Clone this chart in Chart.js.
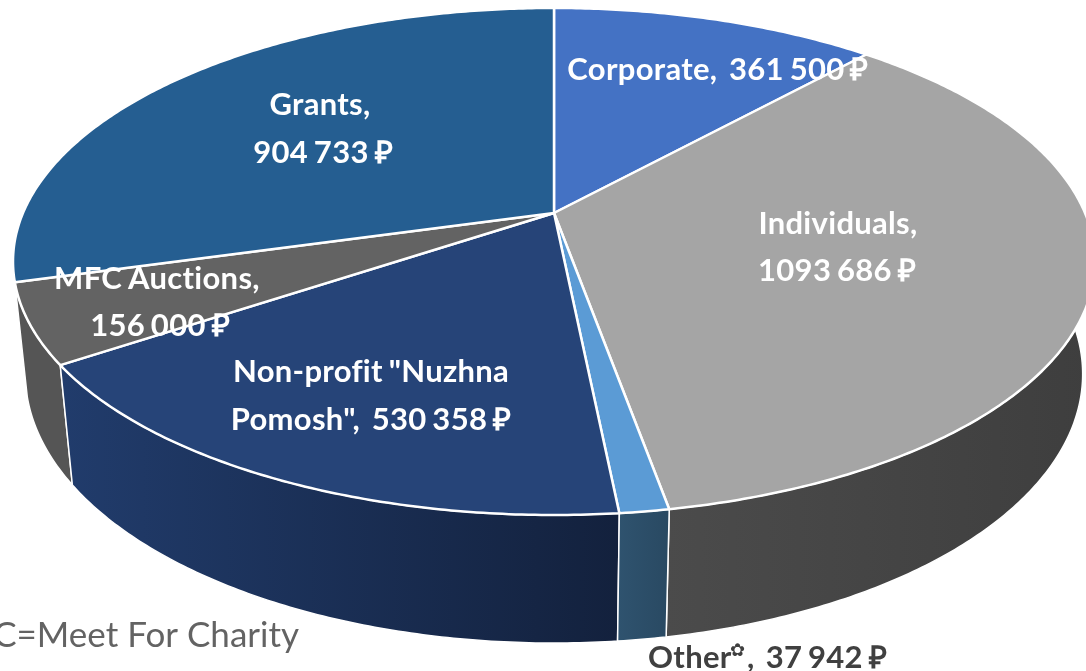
<!DOCTYPE html>
<html>
<head>
<meta charset="utf-8">
<title>Income sources</title>
<script src="https://cdn.jsdelivr.net/npm/chart.js@4"></script>
<style>
  html, body { margin: 0; padding: 0; background: #fff; overflow: hidden; }
  canvas { display: block; }
</style>
</head>
<body>
<canvas id="pie3d" width="1086" height="671"></canvas>
<script>
const categories = ["Corporate", "Individuals", "Other", "Non-profit \"Nuzhna Pomosh\"", "MFC Auctions", "Grants"];
const amounts = [361500, 1093686, 37942, 530358, 156000, 904733];
const topColors = ["#4472C4", "#A5A5A5", "#5B9BD5", "#264478", "#636363", "#255E91"];
const wallColorsLeft = ["#2c4a80", "#4b4b4b", "#2f536f", "#213c6c", "#555555", "#1c466d"];
const wallColorsRight = ["#2c4a80", "#3e3e3e", "#294962", "#13213d", "#555555", "#1c466d"];

// Perspective of the disc: circle coordinates -> screen
const view = { cx: 554, cy: 213, a: 531, b: 203.5, k: 0.1913, depthW: 0.0225, depthY: 118 };

function project(t, z) {
  const u = Math.sin(t);
  const v = -Math.cos(t);
  const w = 1 - view.k * v + view.depthW * z;
  return {
    x: view.cx + view.a * u / w,
    y: (view.b * v + view.cy + view.depthY * z) / w,
  };
}

function arcPoints(start, end, z) {
  const steps = Math.max(2, Math.ceil((end - start) / 0.01));
  const pts = [];
  for (let i = 0; i <= steps; i++) pts.push(project(start + (end - start) * i / steps, z));
  return pts;
}

function drawWall(ctx, arc, i) {
  const t0 = arc.startAngle + Math.PI / 2;
  const t1 = arc.endAngle + Math.PI / 2;
  const top = arcPoints(t0, t1, 0);
  const bottom = arcPoints(t0, t1, 1).reverse();
  const xs = top.concat(bottom).map((p) => p.x);
  const grad = ctx.createLinearGradient(Math.min(...xs), 0, Math.max(...xs), 0);
  grad.addColorStop(0, wallColorsLeft[i]);
  grad.addColorStop(1, wallColorsRight[i]);
  ctx.beginPath();
  top.concat(bottom).forEach((p, n) => (n ? ctx.lineTo(p.x, p.y) : ctx.moveTo(p.x, p.y)));
  ctx.closePath();
  ctx.fillStyle = grad;
  ctx.fill();
  ctx.lineWidth = 1.5;
  ctx.strokeStyle = "#fff";
  ctx.stroke();
}

function drawTop(ctx, arc, i) {
  const t0 = arc.startAngle + Math.PI / 2;
  const t1 = arc.endAngle + Math.PI / 2;
  ctx.beginPath();
  ctx.moveTo(view.cx, view.cy);
  arcPoints(t0, t1, 0).forEach((p) => ctx.lineTo(p.x, p.y));
  ctx.closePath();
  ctx.fillStyle = topColors[i];
  ctx.fill();
  ctx.lineWidth = 2.5;
  ctx.lineJoin = "round";
  ctx.strokeStyle = "#fff";
  ctx.stroke();
}

const labelFont = "700 31px Lato, sans-serif";
const sliceLabels = [
  { text: "Corporate,  361 500 ₽", x: 718, y: 70, color: "#fff" },
  { text: "Individuals,", x: 838, y: 224, color: "#fff" },
  { text: "1093 686 ₽", x: 837, y: 271, color: "#fff" },
  { text: "Other",  x: 648, y: 658, color: "#404040", align: "left" },
  { text: "37 942 ₽", x: 887, y: 658, color: "#404040", align: "right" },
  { text: "Non-profit \"Nuzhna", x: 371, y: 372, color: "#fff" },
  { text: "Pomosh\",  530 358 ₽", x: 371, y: 420, color: "#fff" },
  { text: "MFC Auctions,", x: 157, y: 279, color: "#fff" },
  { text: "156 000 ₽", x: 160, y: 326, color: "#fff" },
  { text: "Grants,", x: 320, y: 105, color: "#fff" },
  { text: "904 733 ₽", x: 323, y: 153, color: "#fff" },
];

const pie3dPlugin = {
  id: "pie3d",
  beforeDatasetsDraw(chart) {
    const ctx = chart.ctx;
    const arcs = chart.getDatasetMeta(0).data;
    ctx.save();
    // back to front so the nearer walls stay on top
    [5, 0, 1, 4, 3, 2].forEach((i) => drawWall(ctx, arcs[i], i));
    arcs.forEach((arc, i) => drawTop(ctx, arc, i));

    ctx.textBaseline = "middle";
    ctx.font = labelFont;
    ctx.wordSpacing = "-2px";
    ctx.letterSpacing = "0.3px";
    sliceLabels.forEach((l) => {
      ctx.textAlign = l.align || "center";
      ctx.fillStyle = l.color;
      ctx.fillText(l.text, l.x, l.y);
    });
    // the small footnote mark after "Other" and its comma
    ctx.textAlign = "left";
    ctx.fillStyle = "#404040";
    ctx.font = "700 18px 'DejaVu Sans', sans-serif";
    ctx.fillText("✿", 730, 651);
    ctx.font = labelFont;
    ctx.fillText(",", 747, 658);

    ctx.wordSpacing = "0px";
    ctx.letterSpacing = "0px";
    ctx.font = "400 35px Lato, sans-serif";
    ctx.textAlign = "right";
    ctx.fillStyle = "#636363";
    ctx.fillText("MFC=Meet For Charity", 299, 636);
    ctx.restore();
    return false;
  },
};

new Chart(document.getElementById("pie3d"), {
  type: "pie",
  data: {
    labels: categories,
    datasets: [{ data: amounts, backgroundColor: topColors, borderColor: "#fff" }],
  },
  options: {
    responsive: false,
    animation: false,
    layout: { padding: 0 },
    plugins: { legend: { display: false }, tooltip: { enabled: false } },
  },
  plugins: [pie3dPlugin],
});
</script>
</body>
</html>
